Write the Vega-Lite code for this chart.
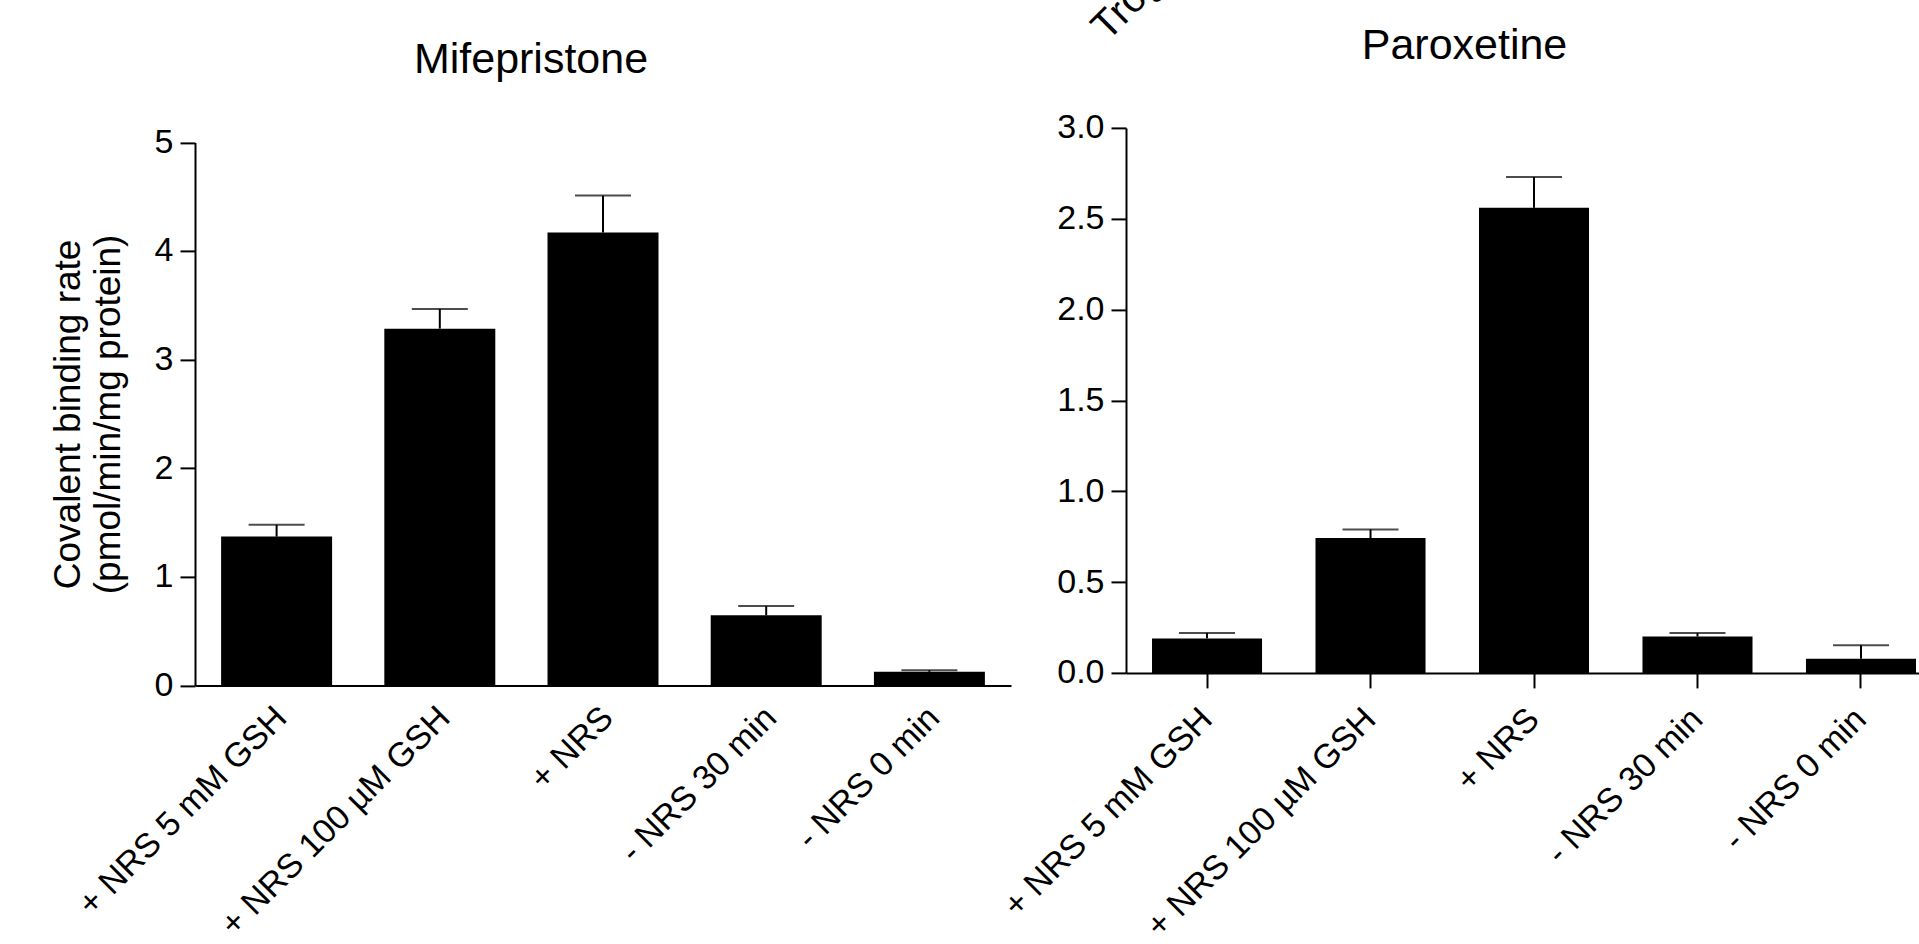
{
  "$schema": "https://vega.github.io/schema/vega-lite/v6.json",
  "background": "white",
  "padding": {"left": 49, "top": -136.1, "right": 0, "bottom": 0},
  "title": {
    "text": "Troglitazone", "angle": -45, "anchor": "start", "frame": "group",
    "align": "left", "baseline": "alphabetic", "offset": 0,
    "dx": 503.9, "dy": 786.6, "fontSize": 40
  },
  "datasets": {
    "mif": [
      {"cond": "+ NRS 5 mM GSH", "value": 1.37, "upper": 1.48},
      {"cond": "+ NRS 100 µM GSH", "value": 3.285, "upper": 3.467},
      {"cond": "+ NRS", "value": 4.17, "upper": 4.51},
      {"cond": "- NRS 30 min", "value": 0.645, "upper": 0.73},
      {"cond": "- NRS 0 min", "value": 0.125, "upper": 0.14}
    ],
    "par": [
      {"cond": "+ NRS 5 mM GSH", "value": 0.19, "upper": 0.22},
      {"cond": "+ NRS 100 µM GSH", "value": 0.742, "upper": 0.79},
      {"cond": "+ NRS", "value": 2.56, "upper": 2.73},
      {"cond": "- NRS 30 min", "value": 0.2, "upper": 0.22},
      {"cond": "- NRS 0 min", "value": 0.078, "upper": 0.152}
    ]
  },
  "spacing": -14,
  "hconcat": [
    {
      "width": 816,
      "height": 557.5,
      "title": {"text": "Mifepristone"},
      "data": {"name": "mif"},
      "encoding": {
        "x": {
          "field": "cond", "type": "nominal", "sort": null,
          "scale": {"paddingInner": 0.32, "paddingOuter": 0.16},
          "axis": {"title": null, "labelAngle": -45, "labelAlign": "right", "labelBaseline": "middle", "ticks": false, "tickSize": 0, "labelPadding": 27, "labelOffset": 5, "labelLimit": 0}
        }
      },
      "layer": [
        {
          "mark": {"type": "bar", "color": "black"},
          "encoding": {
            "y": {
              "field": "value", "type": "quantitative",
              "scale": {"domain": [0, 5], "nice": false, "range": [557.5, 14.5]},
              "axis": {
                "values": [0, 1, 2, 3, 4, 5],
                "format": "d",
                "title": ["Covalent binding rate", "(pmol/min/mg protein)"],
                "titleFontSize": 37, "titleLineHeight": 40, "titlePadding": 27,
                "tickSize": 15, "labelPadding": 7
              }
            }
          }
        },
        {
          "mark": {"type": "rule", "color": "black", "strokeWidth": 2},
          "encoding": {"y": {"field": "value", "type": "quantitative"}, "y2": {"field": "upper"}}
        },
        {
          "mark": {"type": "tick", "color": "black", "thickness": 2, "size": 56, "orient": "horizontal"},
          "encoding": {"y": {"field": "upper", "type": "quantitative"}}
        }
      ]
    },
    {
      "width": 793,
      "height": 545,
      "title": {"text": "Paroxetine", "dx": -58},
      "data": {"name": "par"},
      "encoding": {
        "x": {
          "field": "cond", "type": "nominal", "sort": null,
          "scale": {"paddingInner": 0.327, "paddingOuter": 0.0887, "align": 0.897},
          "axis": {"title": null, "labelAngle": -45, "labelAlign": "right", "labelBaseline": "middle", "tickSize": 15, "labelPadding": 26, "labelLimit": 0}
        }
      },
      "layer": [
        {
          "mark": {"type": "bar", "color": "black"},
          "encoding": {
            "y": {
              "field": "value", "type": "quantitative",
              "scale": {"domain": [0, 3], "nice": false},
              "axis": {
                "values": [0, 0.5, 1, 1.5, 2, 2.5, 3],
                "format": ".1f",
                "title": null,
                "tickSize": 15, "labelPadding": 7
              }
            }
          }
        },
        {
          "mark": {"type": "rule", "color": "black", "strokeWidth": 2},
          "encoding": {"y": {"field": "value", "type": "quantitative"}, "y2": {"field": "upper"}}
        },
        {
          "mark": {"type": "tick", "color": "black", "thickness": 2, "size": 56, "orient": "horizontal"},
          "encoding": {"y": {"field": "upper", "type": "quantitative"}}
        }
      ]
    }
  ],
  "config": {
    "view": {"stroke": null},
    "axis": {
      "grid": false,
      "domainColor": "black", "domainWidth": 2,
      "tickColor": "black", "tickWidth": 2,
      "labelColor": "black", "labelFont": "Liberation Sans", "labelFontSize": 34,
      "titleColor": "black", "titleFont": "Liberation Sans", "titleFontWeight": "normal"
    },
    "title": {
      "font": "Liberation Sans", "fontSize": 43, "fontWeight": "normal", "color": "black",
      "anchor": "middle", "frame": "group", "offset": 43, "dx": -72
    }
  }
}
